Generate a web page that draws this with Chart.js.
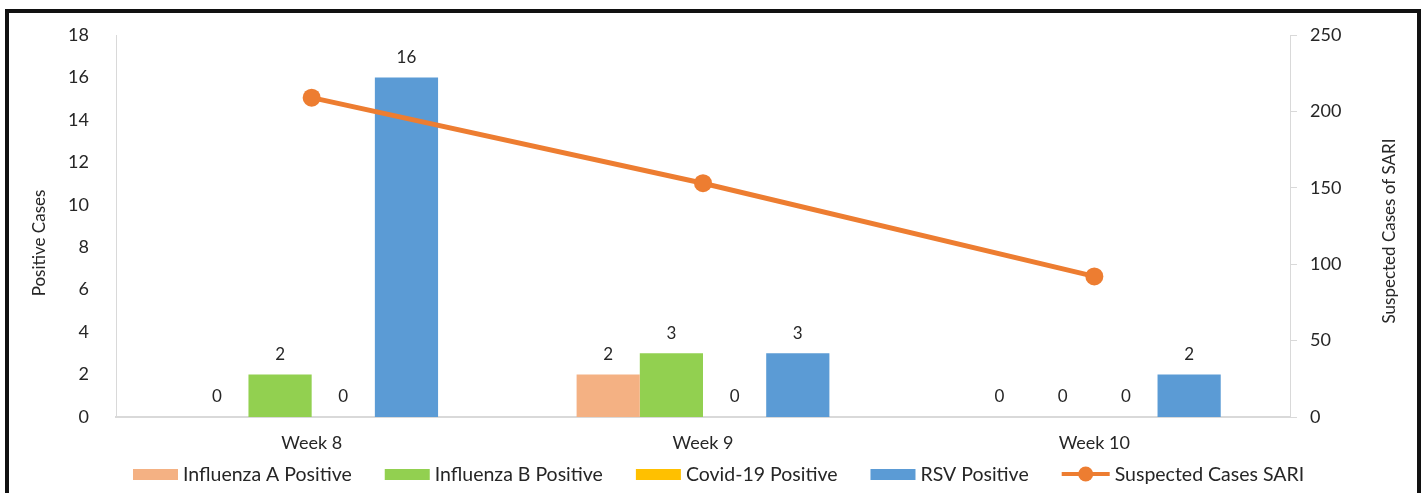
<!DOCTYPE html>
<html>
<head>
<meta charset="utf-8">
<script src="https://cdn.jsdelivr.net/npm/chart.js@4.4.1/dist/chart.umd.min.js"></script>
<style>
  html, body { margin: 0; padding: 0; background: #fff; }
  #wrap { position: relative; width: 1421px; height: 493px; }
  #frame {
    position: absolute; left: 5px; top: 9px; width: 1408px; height: 500px;
    border: 4px solid #111; border-bottom: none; pointer-events: none;
  }
</style>
</head>
<body>
<div id="wrap">
  <canvas id="chart" width="1421" height="493"></canvas>
  <div id="frame"></div>
</div>
<script>
// Data
const weeks = ['Week 8', 'Week 9', 'Week 10'];
const influenzaA = [0, 2, 0];
const influenzaB = [2, 3, 0];
const covid19 = [0, 0, 0];
const rsv = [16, 3, 2];
const suspectedSari = [209, 153, 92];

const leftTicks = [0, 2, 4, 6, 8, 10, 12, 14, 16, 18];
const rightTicks = [0, 50, 100, 150, 200, 250];

const FONT = 'Lato, "Open Sans", sans-serif';
const TEXT = '#262626';
const AXIS = '#d9d9d9';

// value labels above bars
const barLabels = {
    id: 'barLabels',
    afterDatasetsDraw(chart) {
        const ctx = chart.ctx;
        ctx.save();
        ctx.font = '17px ' + FONT;
        ctx.fillStyle = TEXT;
        ctx.textAlign = 'center';
        ctx.textBaseline = 'middle';
        chart.data.datasets.forEach((ds, i) => {
            if (ds.type === 'line') return;
            chart.getDatasetMeta(i).data.forEach((bar, j) => {
                ctx.fillText(String(ds.data[j]), bar.x, bar.y - 20);
            });
        });
        ctx.restore();
    }
};

// axis titles (both read bottom-to-top) and legend
const extras = {
    id: 'extras',
    afterDraw(chart) {
        const ctx = chart.ctx;
        ctx.save();
        ctx.fillStyle = TEXT;
        ctx.font = '17px ' + FONT;
        ctx.textAlign = 'center';
        ctx.textBaseline = 'middle';
        [['Positive Cases', 40, 243], ['Suspected Cases of SARI', 1390, 231]].forEach(([t, x, y]) => {
            ctx.save();
            ctx.translate(x, y);
            ctx.rotate(-Math.PI / 2);
            ctx.fillText(t, 0, 0);
            ctx.restore();
        });

        // legend
        ctx.font = '19.5px ' + FONT;
        ctx.textAlign = 'left';
        let x = 133;
        const y = 474;
        chart.data.datasets.forEach(ds => {
            if (ds.type === 'line') {
                ctx.strokeStyle = ds.borderColor;
                ctx.lineWidth = 4;
                ctx.beginPath();
                ctx.moveTo(x, y);
                ctx.lineTo(x + 48, y);
                ctx.stroke();
                ctx.fillStyle = ds.borderColor;
                ctx.beginPath();
                ctx.arc(x + 24, y, 7.5, 0, Math.PI * 2);
                ctx.fill();
                x += 53;
            } else {
                ctx.fillStyle = ds.backgroundColor;
                ctx.fillRect(x, y - 5, 45, 11);
                x += 50;
            }
            ctx.fillStyle = TEXT;
            ctx.fillText(ds.label, x, y + 1);
            x += ctx.measureText(ds.label).width + 33;
        });
        ctx.restore();
    }
};

const barDefaults = { categoryPercentage: 0.646, barPercentage: 1.0, yAxisID: 'y', order: 1 };

new Chart(document.getElementById('chart'), {
    type: 'bar',
    data: {
        labels: weeks,
        datasets: [
            { ...barDefaults, label: 'Influenza A Positive', data: influenzaA, backgroundColor: '#F4B183' },
            { ...barDefaults, label: 'Influenza B Positive', data: influenzaB, backgroundColor: '#92D050' },
            { ...barDefaults, label: 'Covid-19 Positive', data: covid19, backgroundColor: '#FFC000' },
            { ...barDefaults, label: 'RSV Positive', data: rsv, backgroundColor: '#5B9BD5' },
            {
                type: 'line',
                label: 'Suspected Cases SARI',
                data: suspectedSari,
                yAxisID: 'y1',
                order: 0,
                borderColor: '#ED7D31',
                backgroundColor: '#ED7D31',
                borderWidth: 5,
                pointRadius: 9,
                pointHoverRadius: 9,
                pointBackgroundColor: '#ED7D31',
                pointBorderWidth: 0,
                tension: 0
            }
        ]
    },
    options: {
        responsive: false,
        animation: false,
        events: [],
        layout: { padding: { top: 35, bottom: 0, left: 0, right: 0 } },
        plugins: {
            legend: { display: false },
            tooltip: { enabled: false }
        },
        scales: {
            x: {
                grid: { display: false },
                border: { display: true, color: AXIS, width: 2 },
                ticks: { color: TEXT, font: { family: FONT, size: 18 }, padding: 7 },
                afterFit: s => { s.height = 76; }
            },
            y: {
                position: 'left',
                min: 0,
                max: 18,
                afterBuildTicks: s => { s.ticks = leftTicks.map(v => ({ value: v })); },
                grid: { display: false },
                border: { display: true, color: AXIS, width: 1 },
                ticks: { color: TEXT, font: { family: FONT, size: 18 }, padding: 19 },
                afterFit: s => { s.width = 116; }
            },
            y1: {
                position: 'right',
                min: 0,
                max: 250,
                afterBuildTicks: s => { s.ticks = rightTicks.map(v => ({ value: v })); },
                grid: { display: true, drawOnChartArea: false, drawTicks: true, tickLength: 7, color: AXIS },
                border: { display: true, color: AXIS, width: 1 },
                ticks: { color: TEXT, font: { family: FONT, size: 18 }, padding: 13 },
                afterFit: s => { s.width = 131; }
            }
        }
    },
    plugins: [barLabels, extras]
});
</script>
</body>
</html>
